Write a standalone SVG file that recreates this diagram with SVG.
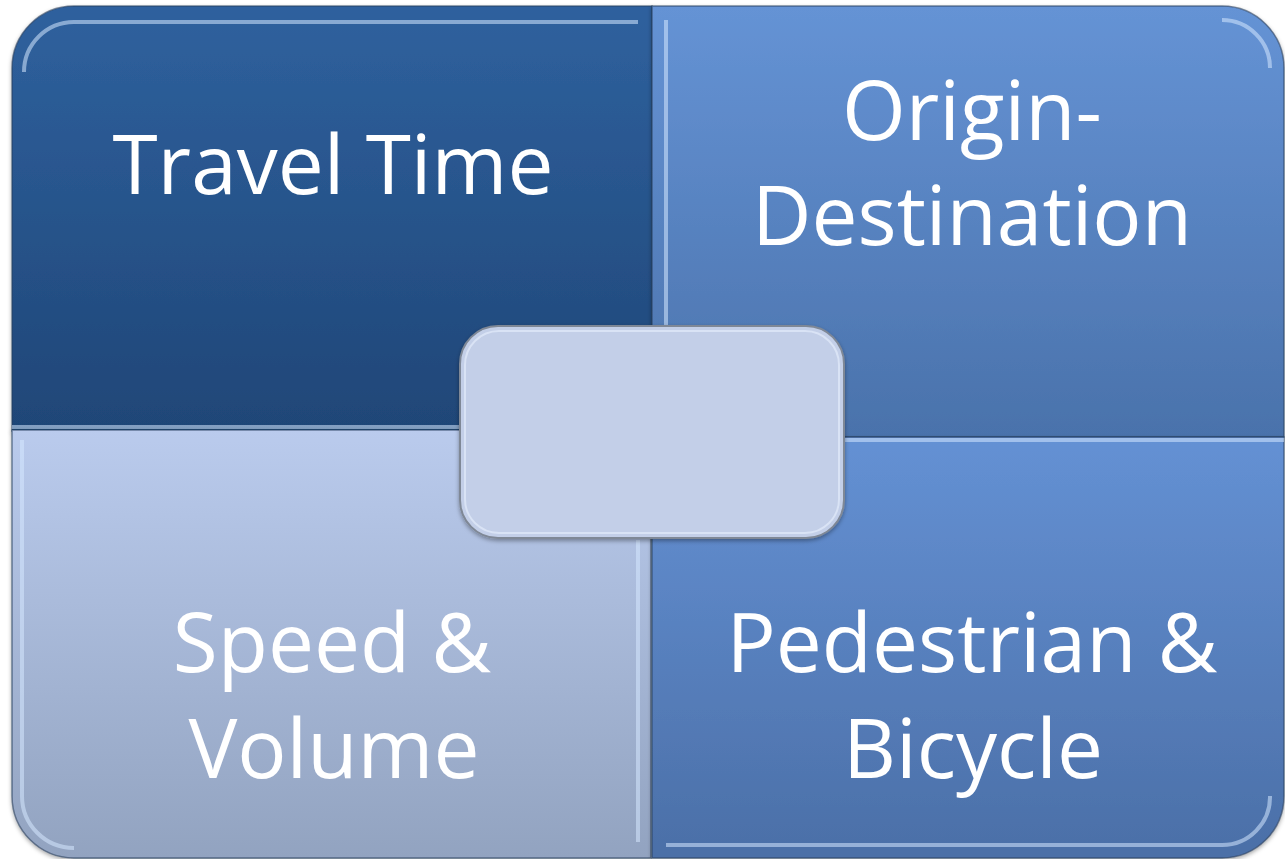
<svg xmlns="http://www.w3.org/2000/svg" width="1285" height="859" viewBox="0 0 1285 859">
<defs>
<linearGradient id="gTL" x1="0" y1="0" x2="0" y2="1"><stop offset="0" stop-color="#2F619E"/><stop offset="1" stop-color="#1F4677"/></linearGradient>
<linearGradient id="gTR" x1="0" y1="0" x2="0" y2="1"><stop offset="0" stop-color="#6593D5"/><stop offset="1" stop-color="#4A72AB"/></linearGradient>
<linearGradient id="gBL" x1="0" y1="0" x2="0" y2="1"><stop offset="0" stop-color="#BACBED"/><stop offset="1" stop-color="#92A3C0"/></linearGradient>
<linearGradient id="gBR" x1="0" y1="0" x2="0" y2="1"><stop offset="0" stop-color="#6491D4"/><stop offset="1" stop-color="#4B6FA7"/></linearGradient>
<filter id="sh" x="-5%" y="-5%" width="110%" height="110%"><feDropShadow dx="0" dy="2" stdDeviation="2" flood-color="#000" flood-opacity="0.35"/></filter>
</defs>
<style>
.q{stroke:#2a3f5e;stroke-width:1.5;stroke-opacity:0.6;filter:url(#sh)}
.hl{fill:none;stroke:#d6e8ff;stroke-width:4;stroke-opacity:0.55;stroke-linecap:butt}
.t{font-family:"Open Sans","Liberation Sans",sans-serif;font-size:82px;fill:#ffffff;text-anchor:middle}
</style>
<rect width="1285" height="859" fill="#ffffff"/>
<g id="node-travel-time">
<path class="q" fill="url(#gTL)" d="M12,68 A62,62 0 0 1 74,6 L652,6 L652,431 L12,431 Z"/>
<path class="hl" d="M24,72 A50,50 0 0 1 74,22 L638,22"/>
<path class="hl" d="M12,427 L460,427"/>
<text class="t" x="333" y="194">Travel Time</text>
</g>
<g id="node-origin-destination">
<path class="q" fill="url(#gTR)" d="M652,6 L1222,6 A62,62 0 0 1 1284,68 L1284,437 L652,437 Z"/>
<path class="hl" d="M666,428 L666,20"/>
<path class="hl" stroke-opacity="0.3" d="M1222,20 A48,48 0 0 1 1270,68"/>
<text class="t" x="972" y="140">Origin-</text>
<text class="t" x="972" y="245">Destination</text>
</g>
<g id="node-speed-volume">
<path class="q" fill="url(#gBL)" d="M12,430 L651,430 L651,858 L74,858 A62,62 0 0 1 12,796 Z"/>
<path class="hl" d="M22,440 L22,796 A52,52 0 0 0 74,848"/>
<path class="hl" stroke-opacity="0.8" d="M638,540 L638,842"/>
<text class="t" x="332" y="672">Speed &amp;</text>
<text class="t" x="334" y="778">Volume</text>
</g>
<g id="node-pedestrian-bicycle">
<path class="q" fill="url(#gBR)" d="M652,437 L1284,437 L1284,796 A62,62 0 0 1 1222,858 L652,858 Z"/>
<path class="hl" d="M844,440 L1284,440"/>
<path class="hl" d="M666,845 L1222,845 A48,48 0 0 0 1270,796"/>
<text class="t" x="972" y="672">Pedestrian &amp;</text>
<text class="t" x="973" y="778">Bicycle</text>
</g>
<g id="node-center">
<rect x="460" y="326" width="384" height="212" rx="38" ry="38" fill="#C3CFE8" stroke="#7F8896" stroke-width="2" filter="url(#sh)"/>
<rect x="465" y="331" width="374" height="202" rx="34" ry="34" fill="none" stroke="#dfe7f7" stroke-width="2" stroke-opacity="0.8"/>
</g>
<g id="connectors"></g>
</svg>
